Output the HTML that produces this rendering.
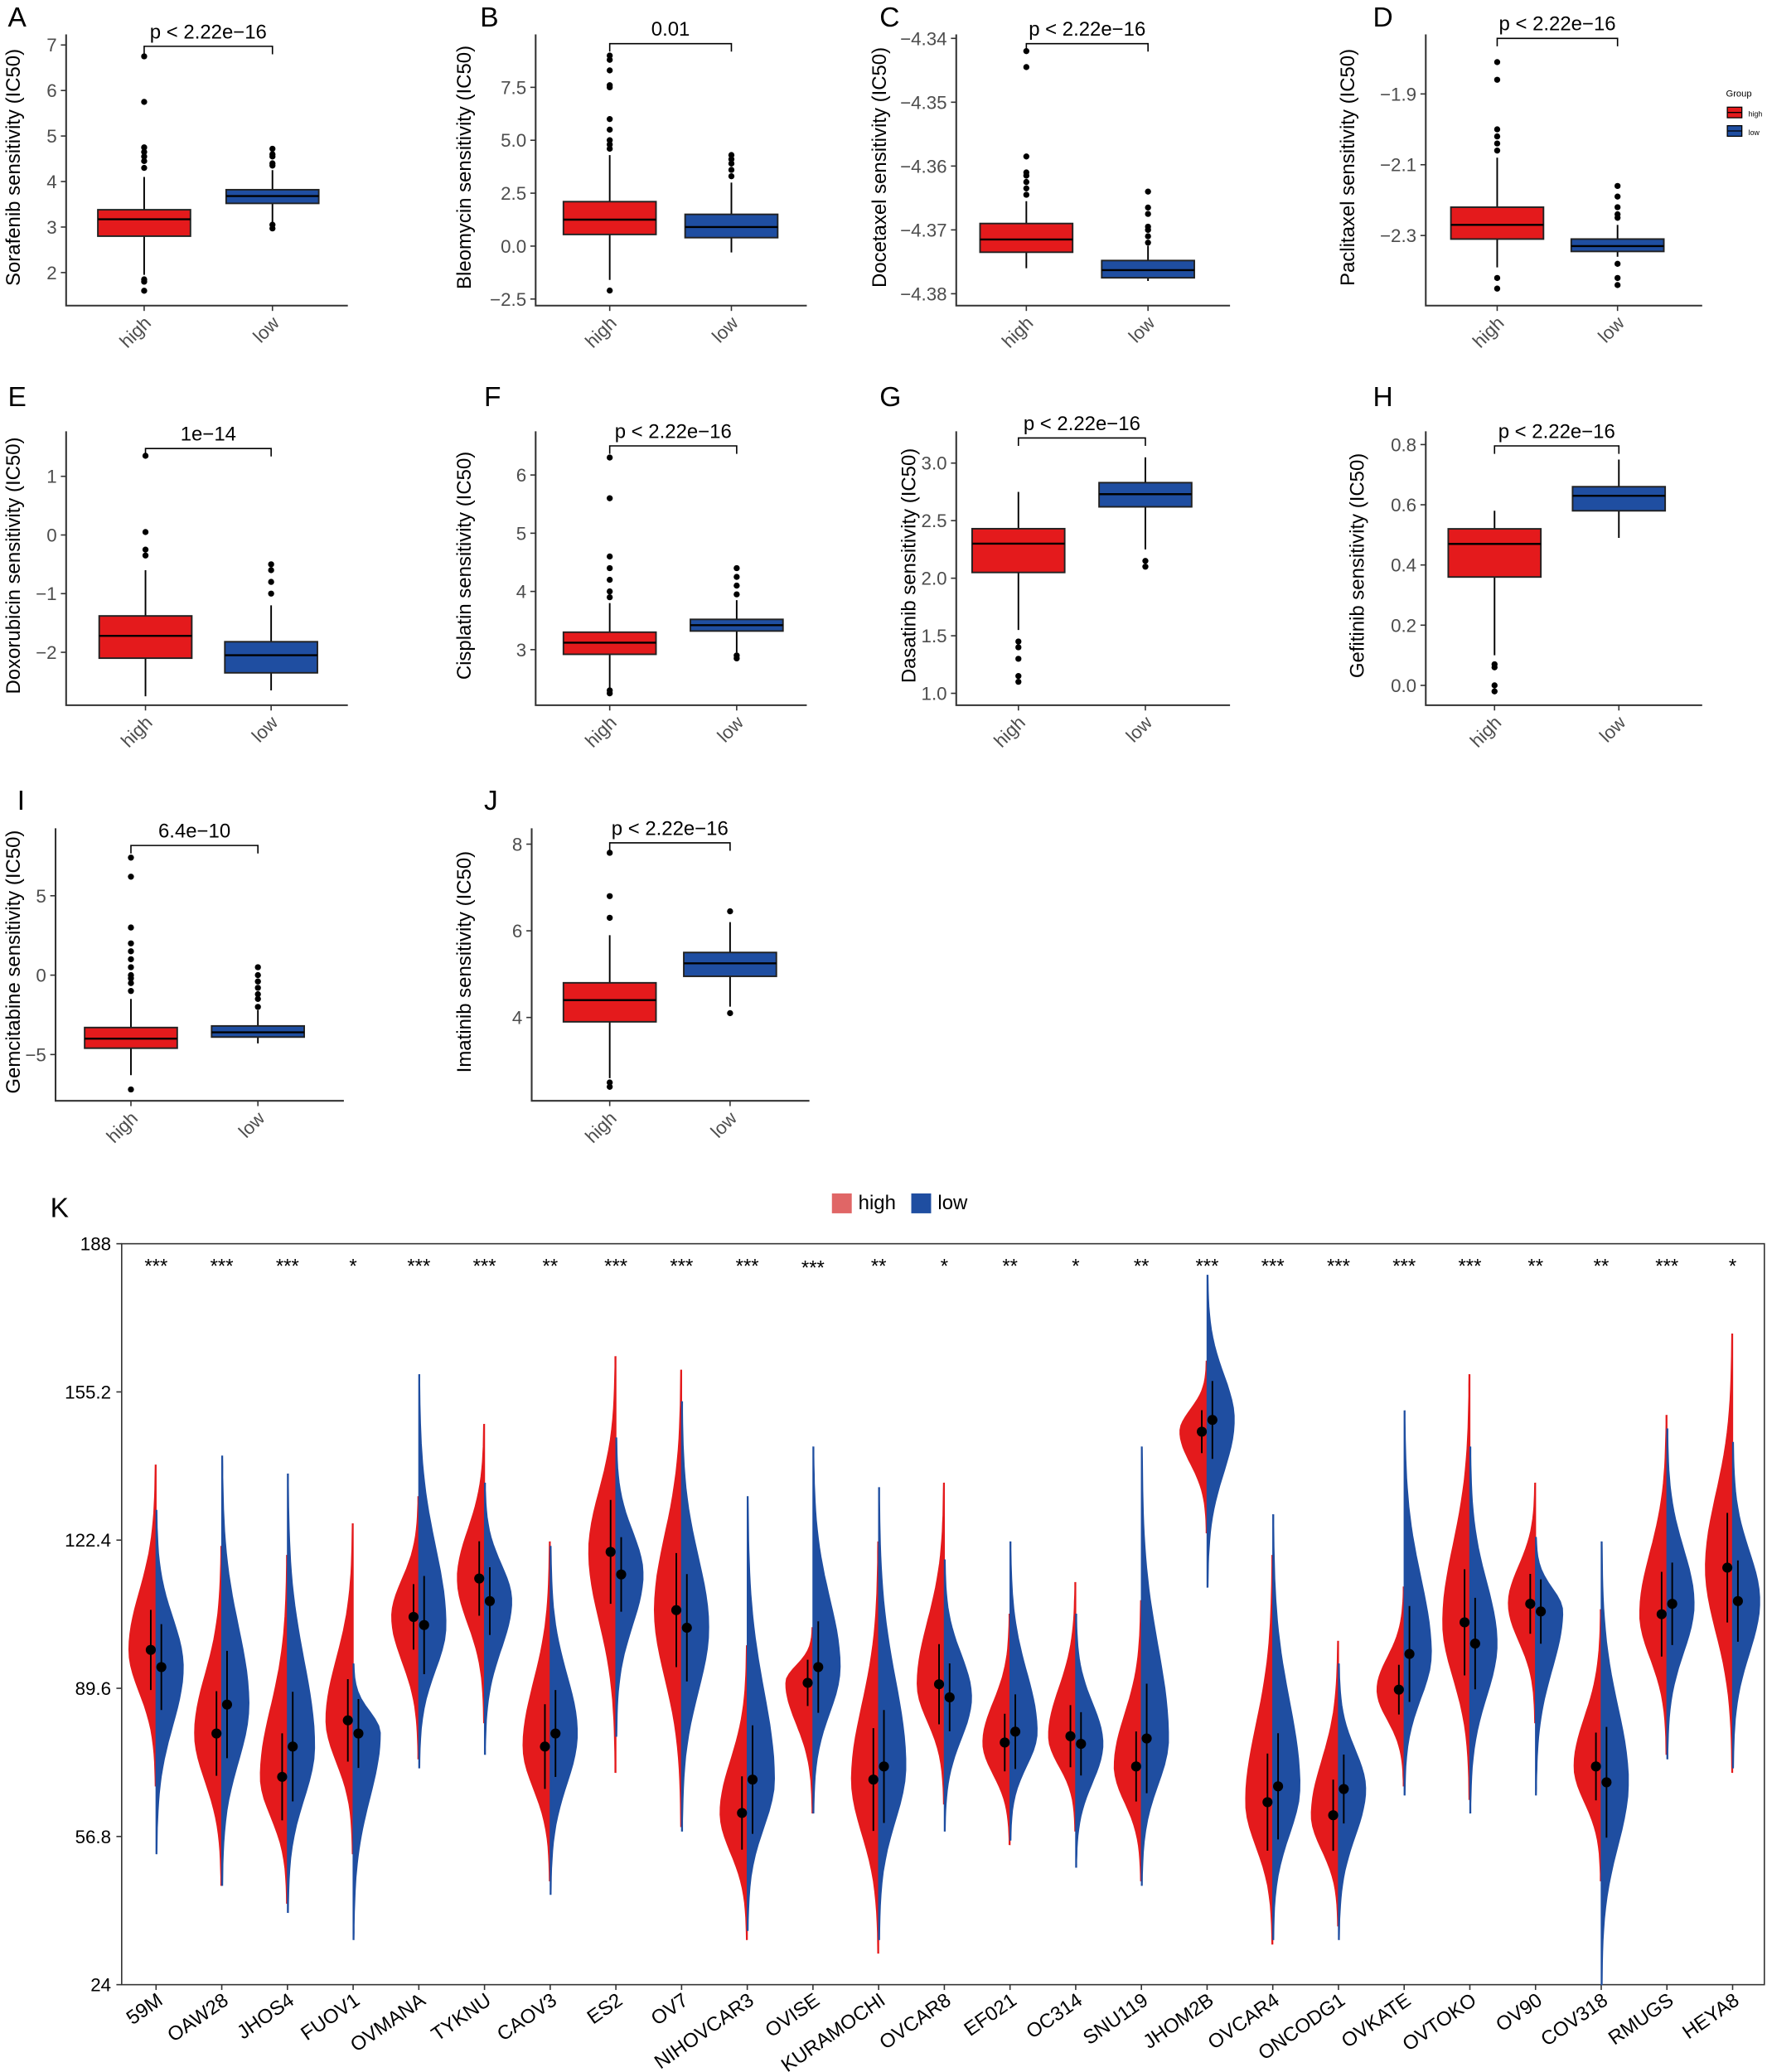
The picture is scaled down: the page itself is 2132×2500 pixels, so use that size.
<!DOCTYPE html>
<html><head><meta charset="utf-8">
<style>
html,body{margin:0;padding:0;background:#fff;}
svg{display:block;font-family:"Liberation Sans",Arial,sans-serif;}
</style></head>
<body>
<svg id="fig" width="2132" height="2500" viewBox="0 0 1336 1566" preserveAspectRatio="none" xmlns="http://www.w3.org/2000/svg">
<g id="boxes"></g>
<g id="legendG">
  <text x="1305" y="73" font-size="7" fill="#000">Group</text>
  <rect x="1306" y="81" width="11" height="8" fill="#e41a1c" stroke="#000" stroke-width="0.8"/>
  <line x1="1306" y1="85" x2="1317" y2="85" stroke="#000" stroke-width="0.8"/>
  <text x="1322" y="88" font-size="5.5" fill="#000">high</text>
  <rect x="1306" y="95" width="11" height="8" fill="#1f4ea1" stroke="#000" stroke-width="0.8"/>
  <line x1="1306" y1="99" x2="1317" y2="99" stroke="#000" stroke-width="0.8"/>
  <text x="1322" y="102" font-size="5.5" fill="#000">low</text>
</g>
<g id="violin"></g>
</svg>
<script>
// ---------- Box plot data: [lowerWhisker, q1, median, q3, upperWhisker] ----------
const A_high=[1.95,2.8,3.17,3.38,4.1]; const A_low=[3.08,3.52,3.68,3.82,4.25];
const A_highOut=[4.3,4.45,4.55,4.65,4.75,5.75,6.75,1.85,1.8,1.6]; const A_lowOut=[4.35,4.4,4.55,4.6,4.72,3.05,2.97];
const B_high=[-1.6,0.55,1.25,2.1,4.3]; const B_low=[-0.3,0.4,0.9,1.5,3.0];
const B_highOut=[4.6,4.8,5.0,5.5,6.0,7.5,7.6,8.3,8.8,9.0,-2.1]; const B_lowOut=[3.3,3.6,3.9,4.1,4.3];
const C_high=[-4.376,-4.3735,-4.3715,-4.369,-4.3655]; const C_low=[-4.378,-4.3775,-4.3763,-4.3748,-4.3725];
const C_highOut=[-4.3645,-4.3635,-4.3625,-4.3615,-4.361,-4.3585,-4.3445,-4.342]; const C_lowOut=[-4.372,-4.371,-4.370,-4.3695,-4.3675,-4.3665,-4.364];
const D_high=[-2.39,-2.31,-2.27,-2.22,-2.08]; const D_low=[-2.36,-2.345,-2.33,-2.31,-2.27];
const D_highOut=[-2.06,-2.04,-2.02,-2.0,-1.86,-1.81,-2.42,-2.45]; const D_lowOut=[-2.25,-2.24,-2.22,-2.19,-2.16,-2.38,-2.42,-2.44];
const E_high=[-2.75,-2.1,-1.72,-1.38,-0.6]; const E_low=[-2.65,-2.35,-2.05,-1.82,-1.2];
const E_highOut=[-0.35,-0.25,0.05,1.35]; const E_lowOut=[-1.0,-0.8,-0.6,-0.5];
const F_high=[2.35,2.92,3.12,3.3,3.8]; const F_low=[2.95,3.32,3.42,3.52,3.85];
const F_highOut=[3.9,4.0,4.2,4.4,4.6,5.6,6.3,2.3,2.25]; const F_lowOut=[3.95,4.1,4.25,4.4,2.9,2.85];
const G_high=[1.55,2.05,2.3,2.43,2.75]; const G_low=[2.25,2.62,2.73,2.83,3.05];
const G_highOut=[1.45,1.4,1.3,1.15,1.1]; const G_lowOut=[2.15,2.1];
const H_high=[0.1,0.36,0.47,0.52,0.58]; const H_low=[0.49,0.58,0.63,0.66,0.75];
const H_highOut=[0.07,0.06,0.0,-0.02]; const H_lowOut=[];
const I_high=[-6.3,-4.6,-4.0,-3.3,-1.5]; const I_low=[-4.3,-3.9,-3.6,-3.2,-2.2];
const I_highOut=[-1.0,-0.5,-0.2,0,0.5,1,1.5,2.0,3,6.2,7.4,-7.2]; const I_lowOut=[-2.0,-1.5,-1.2,-0.8,-0.4,0,0.5];
const J_high=[2.6,3.9,4.4,4.8,5.9]; const J_low=[4.25,4.95,5.25,5.5,6.2];
const J_highOut=[6.3,6.8,7.8,2.5,2.4]; const J_lowOut=[6.45,4.1];
const pLabels=["p < 2.22e\u221216","0.01","p < 2.22e\u221216","p < 2.22e\u221216","1e\u221214","p < 2.22e\u221216","p < 2.22e\u221216","p < 2.22e\u221216","6.4e\u221210","p < 2.22e\u221216"];
const yTitles=["Sorafenib","Bleomycin","Docetaxel","Paclitaxel","Doxorubicin","Cisplatin","Dasatinib","Gefitinib","Gemcitabine","Imatinib"];
const tickA=[2,3,4,5,6,7], tickB=[-2.5,0,2.5,5,7.5], tickC=[-4.38,-4.37,-4.36,-4.35,-4.34], tickD=[-2.3,-2.1,-1.9];
const tickE=[-2,-1,0,1], tickF=[3,4,5,6], tickG=[1.0,1.5,2.0,2.5,3.0], tickH=[0.0,0.2,0.4,0.6,0.8], tickI=[-5,0,5], tickJ=[4,6,8];
const tickFmt=[v=>String(v),v=>v.toFixed(1),v=>v.toFixed(2),v=>v.toFixed(1),v=>String(v),v=>String(v),v=>v.toFixed(1),v=>v.toFixed(1),v=>String(v),v=>String(v)];

// layout (style only)
const layouts=[
 {L:"A",lx:6,ly:20,tx:15,x0:50,x1:263,yb:231,yt:22,v:[2,7],p:[206,34],gx:[109,206],py:26},
 {L:"B",lx:363,ly:20,tx:356,x0:405,x1:610,yb:231,yt:22,v:[-2.5,7.5],p:[226,66],gx:[461,553],py:24},
 {L:"C",lx:665,ly:20,tx:670,x0:723,x1:930,yb:231,yt:22,v:[-4.38,-4.34],p:[222,29],gx:[776,868],py:24},
 {L:"D",lx:1038,ly:20,tx:1024,x0:1078,x1:1287,yb:231,yt:22,v:[-2.3,-1.9],p:[178,71],gx:[1132,1223],py:20},
 {L:"E",lx:6,ly:307,tx:15,x0:50,x1:263,yb:533,yt:322,v:[-2,1],p:[493,360],gx:[110,205],py:330},
 {L:"F",lx:366,ly:307,tx:356,x0:405,x1:610,yb:533,yt:322,v:[3,6],p:[491,359],gx:[461,557],py:328},
 {L:"G",lx:665,ly:307,tx:692,x0:723,x1:930,yb:533,yt:322,v:[1,3],p:[524,350],gx:[770,866],py:322},
 {L:"H",lx:1038,ly:307,tx:1031,x0:1078,x1:1287,yb:533,yt:322,v:[0,0.8],p:[518,336],gx:[1130,1224],py:328},
 {L:"I",lx:13,ly:612,tx:15,x0:42,x1:260,yb:832,yt:622,v:[-5,5],p:[797,677],gx:[99,195],py:630},
 {L:"J",lx:366,ly:612,tx:356,x0:402,x1:612,yb:832,yt:622,v:[4,8],p:[769,638],gx:[461,552],py:628}
];
const panelData=[[A_high,A_low,A_highOut,A_lowOut,tickA],[B_high,B_low,B_highOut,B_lowOut,tickB],[C_high,C_low,C_highOut,C_lowOut,tickC],[D_high,D_low,D_highOut,D_lowOut,tickD],[E_high,E_low,E_highOut,E_lowOut,tickE],[F_high,F_low,F_highOut,F_lowOut,tickF],[G_high,G_low,G_highOut,G_lowOut,tickG],[H_high,H_low,H_highOut,H_lowOut,tickH],[I_high,I_low,I_highOut,I_lowOut,tickI],[J_high,J_low,J_highOut,J_lowOut,tickJ]];

const NS="http://www.w3.org/2000/svg";
function mk(tag,attrs,parent){const e=document.createElementNS(NS,tag);for(const k in attrs)e.setAttribute(k,attrs[k]);parent.appendChild(e);return e;}
const boxesG=document.getElementById('boxes');
layouts.forEach((lay,i)=>{
  const [hi,lo,hiO,loO,ticks]=panelData[i];
  const y=v=>lay.p[0]+(v-lay.v[0])*(lay.p[1]-lay.p[0])/(lay.v[1]-lay.v[0]);
  const g=mk('g',{},boxesG);
  
  
  const lt=mk('text',{x:lay.lx,y:lay.ly,'font-size':21,fill:'#000'},g);lt.textContent=lay.L;
  
  
  const ax=mk('path',{d:`M${lay.x0},${lay.yt+4} V${lay.yb} H${lay.x1}`,fill:'none',stroke:'#333','stroke-width':1.3},g);
  
  
  ticks.forEach(t=>{
    const ty=y(t);
    mk('line',{x1:lay.x0-4,x2:lay.x0,y1:ty,y2:ty,stroke:'#333','stroke-width':1},g);
    const tt=mk('text',{x:lay.x0-7,y:ty+5,'text-anchor':'end','font-size':14,fill:'#4d4d4d'},g);
    tt.textContent=tickFmt[i](t).replace('-','\u2212');
    
    
  });
  const cy=(lay.yt+lay.yb)/2;
  const yt=mk('text',{x:0,y:0,transform:`translate(${lay.tx},${cy}) rotate(-90)`,'text-anchor':'middle','font-size':15,fill:'#000'},g);
  yt.textContent=yTitles[i]+' sensitivity (IC50)';
  
  
  const bw=70;
  [[hi,hiO,'#e41a1c','high'],[lo,loO,'#1f4ea1','low']].forEach((s,j)=>{
    const gx=lay.gx[j];const st=s[0];
    mk('line',{x1:gx,x2:gx,y1:lay.yb,y2:lay.yb+4,stroke:'#333'},g);
    const xl=mk('text',{x:0,y:0,transform:`translate(${gx+6},${lay.yb+14}) rotate(-45)`,'text-anchor':'end','font-size':14,fill:'#4d4d4d'},g);
    xl.textContent=s[3];
    
    
    mk('line',{x1:gx,x2:gx,y1:y(st[0]),y2:y(st[4]),stroke:'#000','stroke-width':1.2},g);
    const b=mk('rect',{x:gx-bw/2,y:y(st[3]),width:bw,height:y(st[1])-y(st[3]),fill:s[2],stroke:'#222','stroke-width':1.2},g);
    
    
    mk('line',{x1:gx-bw/2,x2:gx+bw/2,y1:y(st[2]),y2:y(st[2]),stroke:'#000','stroke-width':1.5},g);
    s[1].forEach(o=>{const c=mk('circle',{cx:gx,cy:y(o),r:2.3,fill:'#000'},g);
      
      });
  });
  const by=lay.py+9;
  mk('path',{d:`M${lay.gx[0]},${by+6} V${by} H${lay.gx[1]} V${by+6}`,fill:'none',stroke:'#000','stroke-width':1},g);
  const pt=mk('text',{x:(lay.gx[0]+lay.gx[1])/2,y:lay.py+3,'text-anchor':'middle','font-size':15,fill:'#000'},g);
  pt.textContent=pLabels[i];
  
  
});

// ---------- Panel K violin data ----------
const cellLines=["59M","OAW28","JHOS4","FUOV1","OVMANA","TYKNU","CAOV3","ES2","OV7","NIHOVCAR3","OVISE","KURAMOCHI","OVCAR8","EF021","OC314","SNU119","JHOM2B","OVCAR4","ONCODG1","OVKATE","OVTOKO","OV90","COV318","RMUGS","HEYA8"];
const highMedian=[98.1,79.6,70,82.5,105.4,113.9,76.7,119.8,106.9,62,90.8,69.4,90.5,77.6,79,72.3,146.4,64.4,61.5,89.3,104.2,108.3,72.3,106,116.3];
const lowMedian=[94.3,86,76.7,79.6,103.6,108.9,79.6,114.8,103,69.4,94.3,72.3,87.6,80,77.3,78.5,149,67.9,67.3,97.2,99.5,106.6,68.8,108.3,108.9];
const highMin=[68,46,42,53,74,82,47,71,59,34,62,31,64,55,58,47,124,33,37,68,65,82,47,75,71];
const highMax=[139,121,119,126,132,148,122,163,160,99,103,122,135,106,113,109,162,119,100,112,159,135,107,150,168];
const lowMin=[53,46,40,34,72,75,44,79,58,36,62,34,58,56,50,46,112,34,34,66,62,66,24,74,72];
const lowMax=[129,141,137,95,159,135,121,145,153,132,143,134,118,122,106,143,181,128,95,151,143,123,122,147,144];
const stars=["***","***","***","*","***","***","**","***","***","***","***","**","*","**","*","**","***","***","***","***","***","**","**","***","*"];
const kTicks=[24,56.8,89.6,122.4,155.2,188];

const K={x0:92,x1:1334,yt:940,yb:1500};
const ky=v=>K.yb-(v-24)*(K.yb-K.yt)/(188-24);
const kx=i=>118+i*(1310-118)/(cellLines.length-1);
const vg=document.getElementById('violin');
const kl=mk('text',{x:38,y:920,'font-size':21,fill:'#000'},vg);kl.textContent='K';
mk('rect',{x:K.x0,y:K.yt,width:K.x1-K.x0,height:K.yb-K.yt,fill:'none',stroke:'#333','stroke-width':1},vg);
kTicks.forEach(t=>{
  mk('line',{x1:K.x0-4,x2:K.x0,y1:ky(t),y2:ky(t),stroke:'#333'},vg);
  const tt=mk('text',{x:K.x0-8,y:ky(t)+5,'text-anchor':'end','font-size':14,fill:'#000'},vg);
  tt.textContent=String(t);
  
  
});
const kleg=mk('g',{},vg);


mk('rect',{x:629,y:902,width:15,height:15,fill:'#e06666'},kleg);
const lh=mk('text',{x:649,y:914,'font-size':15,fill:'#000'},kleg);lh.textContent='high';
mk('rect',{x:689,y:902,width:15,height:15,fill:'#1f4ea1'},kleg);
const ll=mk('text',{x:709,y:914,'font-size':15,fill:'#000'},kleg);ll.textContent='low';

function halfViolin(cx,dir,med,mn,mx,color){
  const pts=[];const n=40;const W=20;
  const sdU=(mx-med)/3.2, sdL=(med-mn)/3.2;
  for(let k=0;k<=n;k++){const v=mn+(mx-mn)*k/n;const s=v>med?sdU:sdL;
    const w=W*Math.exp(-0.5*((v-med)/s)**2)+0.5;pts.push([cx+dir*w,ky(v)]);}
  let d=`M${cx},${ky(mn)} `+pts.map(p=>`L${p[0].toFixed(1)},${p[1].toFixed(1)}`).join(' ')+` L${cx},${ky(mx)} Z`;
  return mk('path',{d,fill:color,stroke:color,'stroke-width':0.8},vg);
}
cellLines.forEach((name,i)=>{
  const cx=kx(i);
  mk('line',{x1:cx,x2:cx,y1:K.yb,y2:K.yb+4,stroke:'#333'},vg);
  const hv=halfViolin(cx,-1,highMedian[i],highMin[i],highMax[i],'#e41a1c');
  
  
  const lv=halfViolin(cx,1,lowMedian[i],lowMin[i],lowMax[i],'#1f4ea1');
  
  
  const hs=(highMax[i]-highMin[i])/8, ls=(lowMax[i]-lowMin[i])/8;
  mk('line',{x1:cx-4,x2:cx-4,y1:ky(highMedian[i]-hs),y2:ky(highMedian[i]+hs),stroke:'#000','stroke-width':1.2},vg);
  mk('line',{x1:cx+4,x2:cx+4,y1:ky(lowMedian[i]-ls),y2:ky(lowMedian[i]+ls),stroke:'#000','stroke-width':1.2},vg);
  const hp=mk('circle',{cx:cx-4,cy:ky(highMedian[i]),r:3.8,fill:'#000'},vg);
  
  
  const lp=mk('circle',{cx:cx+4,cy:ky(lowMedian[i]),r:3.8,fill:'#000'},vg);
  
  
  const st=mk('text',{x:cx,y:name==="OVISE"?963:962,'text-anchor':'middle','font-size':15,fill:'#000'},vg);
  st.textContent=stars[i];
  
  
  const xl=mk('text',{x:0,y:0,transform:`translate(${cx+6},${K.yb+14}) rotate(-35)`,'text-anchor':'end','font-size':15,fill:'#000'},vg);
  xl.textContent=name;
  
  
});
</script>
</body></html>
